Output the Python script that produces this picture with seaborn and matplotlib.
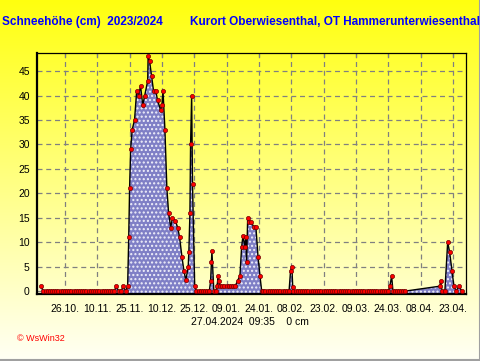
import numpy as np
import pandas as pd
import matplotlib
matplotlib.use("Agg")
import matplotlib.pyplot as plt
import seaborn as sns
from matplotlib.lines import Line2D

sns.set_style("white")
plt.rcParams['font.family'] = ['Liberation Sans', 'DejaVu Sans']

# x = days after 26.10.2023
days = ([-11] + list(range(-10, 24)) +
        [23.7, 25, 26, 27.1, 28.2, 29.1, 29.6, 30.0, 30.5, 31.2, 32.3, 33.3, 34.2, 35.1,
         36.1, 37.0, 38.4, 38.6, 39.3, 40.2, 41.1, 42.1, 43.0, 44.4, 45.0, 45.5, 46.4,
         47.3, 48.1, 49.1, 49.9, 51.3, 52.3, 53.2, 54.3, 55.2, 56.1, 57.2, 57.5, 58.0,
         58.3, 58.8, 59.2, 60.2] +
        list(range(61, 68)) +
        [67.6, 68.0, 68.2, 69.1, 70.0, 70.6, 71.1, 71.4] +
        list(range(72, 80)) +
        [80.1, 81.2, 82.0, 82.6, 83.5, 83.9, 84.3, 84.8, 85.4, 86.2, 87.6, 88.6, 89.6,
         90.5, 91.3] +
        list(range(92, 105)) +
        [104.7, 105.3, 105.7] +
        list(range(106, 151)) +
        [150.8, 151.6, 152.2] +
        list(range(153, 159)) +
        [174.0, 174.3, 175.0, 176.3, 177.6, 178.5, 179.6, 180.5, 181.6, 182.8, 184.2])

snow = ([1] + [0] * 34 +
        [1, 0, 0, 1, 0, 1, 11, 21, 29, 33, 35, 41, 40, 42,
         38, 40, 43, 48, 47, 44, 41, 41, 39, 37, 38, 41, 33,
         21, 16, 13, 15, 14.3, 13, 11, 7, 4.2, 2.2, 5, 8, 16,
         30, 40, 22, 1] +
        [0] * 7 +
        [2.1, 6, 8.2, 0, 0, 1, 3.1, 2.1] +
        [1] * 8 +
        [2.1, 3.1, 9.1, 11.2, 9.1, 11.1, 6, 15, 14.2, 14.2, 13.2, 13.2, 7,
         3.1, 0] +
        [0] * 13 +
        [4.2, 5, 0.9] +
        [0] * 45 +
        [1, 3.1, 0] +
        [0] * 6 +
        [1, 2.1, 0, 0, 10, 8, 4.2, 1, 0, 1, 0])

tick_days = [0, 15, 30, 45, 60, 75, 90, 105, 120, 135, 150, 165, 180]
tick_labels = ["26.10.", "10.11.", "25.11.", "10.12.", "25.12.", "09.01.", "24.01.",
               "08.02.", "23.02.", "09.03.", "24.03.", "08.04.", "23.04."]
y_ticks = [0, 5, 10, 15, 20, 25, 30, 35, 40, 45]

df = pd.DataFrame({"day": days, "snow": snow})

fig = plt.figure(figsize=(4.81, 3.61), dpi=100)

# background gradient
bg = fig.add_axes([0, 0, 1, 1], zorder=-10)
grad = np.linspace(0, 1, 256).reshape(-1, 1)
top = np.array([255, 255, 15]) / 255.0
bot = np.array([255, 255, 245]) / 255.0
img = top[None, None, :] * (1 - grad[:, :, None]) + bot[None, None, :] * grad[:, :, None]
bg.imshow(img, aspect='auto', extent=[0, 1, 0, 1])
bg.axis('off')

ax = fig.add_axes([0.0763, 0.1856, 0.8925, 0.6676])
ax.patch.set_alpha(0)

ymin, ymax = -0.6, 48.7
ax.set_xlim(-13.1, 186.1)
ax.set_ylim(ymin, ymax)

ax.fill_between(df["day"], df["snow"], ymin, facecolor='#7f7fc6', hatch='....',
                edgecolor='#f0f0fa', linewidth=0, zorder=2)
sns.lineplot(data=df, x="day", y="snow", ax=ax, sort=False, estimator=None,
             color='black', linewidth=1.0, marker='o', markersize=3.0,
             markerfacecolor='#ff0000', markeredgecolor='#700000',
             markeredgewidth=0.5, zorder=3)

ax.set_xticks(tick_days)
ax.set_xticklabels(tick_labels)
ax.set_xticks(np.arange(-10, 186, 5), minor=True)
ax.set_yticks(y_ticks)
ax.set_yticks(np.arange(0, 49, 1), minor=True)
ax.tick_params(axis='both', which='major', direction='out', length=3.5, width=0.8,
               labelsize=7.5, colors='black')
ax.tick_params(axis='both', which='minor', direction='out', length=2, width=0.7)
ax.tick_params(axis='x', which='major', pad=4)
ax.tick_params(axis='y', which='major', pad=1.5)
ax.set_xlabel("")
ax.set_ylabel("")

ax.grid(True, which='major', linestyle=(0, (4, 3)), color='#808080', linewidth=0.9)
ax.set_axisbelow(True)

for side, w in [('left', 1.6), ('bottom', 1.6), ('top', 0.9), ('right', 0.9)]:
    ax.spines[side].set_visible(True)
    ax.spines[side].set_color('black')
    ax.spines[side].set_linewidth(w)

sec = ax.secondary_xaxis('top')
sec.set_xticks(tick_days)
sec.set_xticklabels([])
sec.tick_params(direction='in', length=3, width=0.8)
sec.spines['top'].set_visible(False)

fig.text(0.004, 0.94, "Schneehöhe (cm)  2023/2024", color='#0000ff', fontsize=8.5,
         fontweight='bold', ha='left', va='center')
fig.text(0.998, 0.94, "Kurort Oberwiesenthal, OT Hammerunterwiesenthal", color='#0000ff',
         fontsize=8.5, fontweight='bold', ha='right', va='center')
fig.text(0.52, 0.108, "27.04.2024  09:35    0 cm", color='black', fontsize=7.5,
         ha='center', va='center')
fig.text(0.035, 0.062, "© WsWin32", color='#ff0000', fontsize=6.5, ha='left', va='center')

fig.add_artist(Line2D([0.997, 0.997], [0, 1], transform=fig.transFigure, color='#a0a0a0', lw=1.5))
fig.add_artist(Line2D([0, 1], [0.003, 0.003], transform=fig.transFigure, color='#a0a0a0', lw=1.5))

fig.savefig("out.png", dpi=100)
